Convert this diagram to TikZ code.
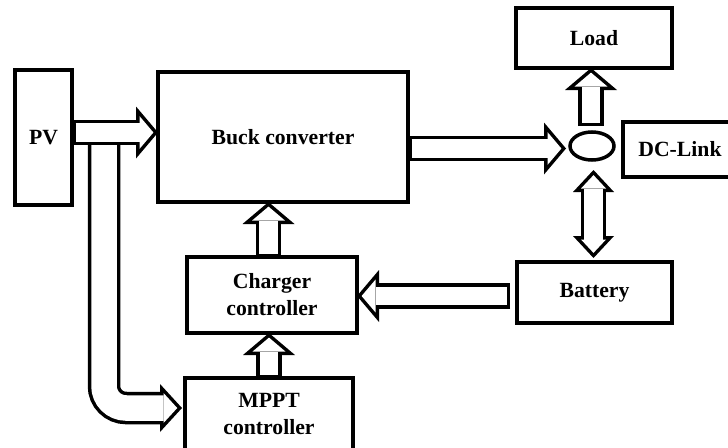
\documentclass[tikz,border=0pt]{standalone}
\usepackage{fontspec}
\setmainfont{Liberation Serif}
\usetikzlibrary{arrows.meta, positioning, shapes.geometric, calc}

\begin{document}
\begin{tikzpicture}[x=1pt, y=-1pt,
    block/.style={draw, line width=4pt, inner sep=0pt, outer sep=0pt, align=center,
        font=\fontsize{21.7}{27}\selectfont\bfseries},
    link/.style={draw, ellipse, line width=3.5pt, inner sep=0pt, outer sep=0pt,
        minimum width=44pt, minimum height=28pt},
    fat/.style={line width=25.5pt, -{Triangle[length=22pt, width=52pt, line width=0pt]},
        postaction={draw=white, line width=18.5pt, shorten <=3.5pt, shorten >=4.6pt,
            -{Triangle[length=13.9pt, width=32.8pt, line width=0pt]}}},
    fatboth/.style={line width=25.5pt,
        {Triangle[length=22pt, width=41pt, line width=0pt]}-{Triangle[length=22pt, width=41pt, line width=0pt]},
        postaction={draw=white, line width=18.5pt, shorten <=5.1pt, shorten >=5.1pt,
            {Triangle[length=13.4pt, width=25pt, line width=0pt]}-{Triangle[length=13.4pt, width=25pt, line width=0pt]}}},
    fatwide/.style={line width=32.5pt, rounded corners=22pt,
        -{Triangle[length=22pt, width=48pt, line width=0pt]},
        postaction={draw=white, line width=25.5pt, shorten <=3.5pt, shorten >=4.75pt,
            -{Triangle[length=13.75pt, width=30pt, line width=0pt]}}}]
    \useasboundingbox (0,0) rectangle (728,447);

    % blocks
    \node[block, minimum width=57pt, minimum height=135pt] (pv) at (43.5,137.5) {PV};
    \node[block, minimum width=250pt, minimum height=130pt] (buck) at (283,137) {Buck converter};
    \node[block, minimum width=156pt, minimum height=60pt] (load) at (594,38) {Load};
    \node[link] (dc) at (592,146) {};
    \node[block, minimum width=114pt, minimum height=55pt] (dclink) at (680,149.5) {DC-Link};
    \node[block, minimum width=155pt, minimum height=61pt] (battery) at (594.5,292.5) {Battery};
    \node[block, minimum width=170pt, minimum height=76pt] (charger) at (272,295) {Charger\\controller};
    \node[block, minimum width=168pt, minimum height=72pt] (mppt) at (269,414) {MPPT\\controller};

    % PV -> MPPT first, so the PV -> buck arrow covers its top
    \draw[fatwide] ($(pv.east)+(32,-5)$) |- ($(mppt.west)+(-3,-6)$);
    \draw[fat] ($(pv.east)+(0,-5)$) -- ($(buck.west)+(0,-4.5)$);
    \draw[fat] ($(buck.east)+(0,11.5)$) -- ($(dc.west)+(-4,2.5)$);
    \draw[fat] ($(dc.north)+(-1,-6)$) -- ($(load.south)+(-3,0)$);
    \draw[fatboth] ($(dc.south)+(1.5,10)$) -- ($(battery.north)+(-1,-4)$);
    \draw[fat] ($(battery.west)+(-7,3.5)$) -- ($(charger.east)+(0,1)$);
    \draw[fat] ($(charger.north)+(-3.5,0)$) -- ($(buck.south)+(-14.5,0)$);
    \draw[fat] (mppt.north) -- ($(charger.south)+(-3,0)$);
\end{tikzpicture}
\end{document}
